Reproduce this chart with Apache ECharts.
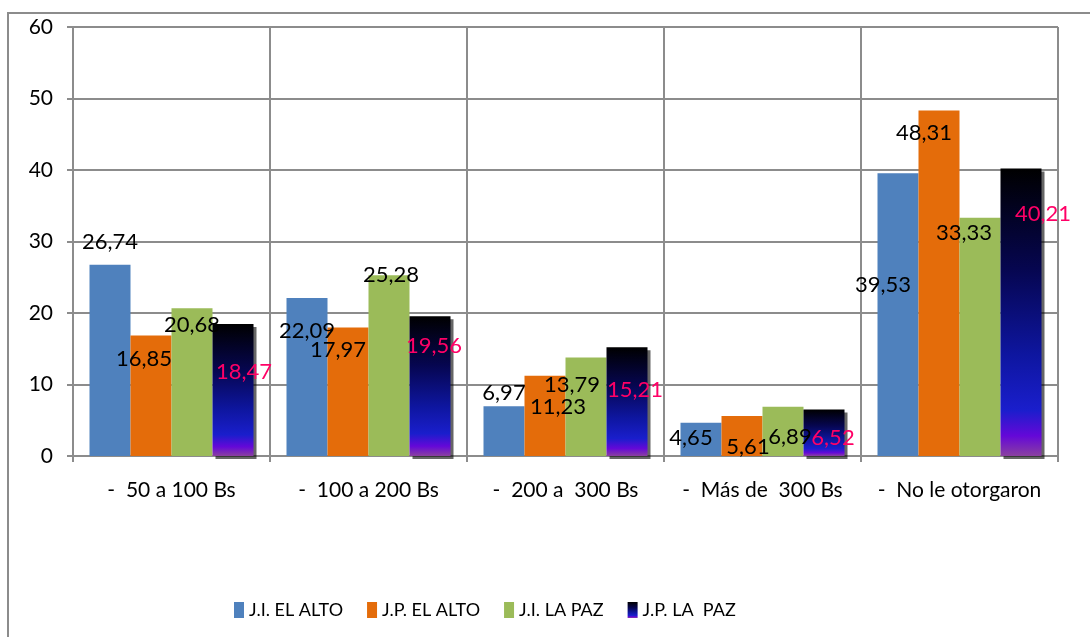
<!DOCTYPE html>
<html lang="es">
<head>
    <meta charset="UTF-8">
    <title>Gráfico de barras - montos</title>
    <script src="https://cdn.jsdelivr.net/npm/echarts@6/dist/echarts.min.js"></script>
    <style>
        html, body { margin: 0; padding: 0; background: #fff; }
        #main { width: 1090px; height: 637px; }
    </style>
</head>
<body>
<div id="main"></div>
<script type="text/javascript">
    // datos
    var categories = ['-  50 a 100 Bs', '-  100 a 200 Bs', '-  200 a  300 Bs', '-  Más de  300 Bs', '-  No le otorgaron'];
    var seriesNames = ['J.I. EL ALTO', 'J.P. EL ALTO', 'J.I. LA PAZ', 'J.P. LA  PAZ'];
    var jiElAlto = [26.74, 22.09, 6.97, 4.65, 39.53];
    var jpElAlto = [16.85, 17.97, 11.23, 5.61, 48.31];
    var jiLaPaz  = [20.68, 25.28, 13.79, 6.89, 33.33];
    var jpLaPaz  = [18.47, 19.56, 15.21, 6.52, 40.21];
    var yTicks = [0, 10, 20, 30, 40, 50, 60];

    // desplazamiento de las etiquetas respecto al tope de cada barra (px)
    var labelOffsets = [
        [[0, -23], [0, 33], [0, -13], [-10, 15], [-15, 112]],
        [[-7, 23], [-10, 22], [13, 31], [6, 31], [-15, 22]],
        [[0, 17], [2, 0], [-14, 28], [7, 30], [-16, 15]],
        [[11, 48], [4, 30], [8, 43], [9, 29], [22, 45]]
    ];

    var font = 'Lato';
    var gridColor = '#8c8c8c';

    var darkGradient = new echarts.graphic.LinearGradient(0, 0, 0, 1, [
        { offset: 0, color: '#000000' },
        { offset: 0.35, color: '#060650' },
        { offset: 0.65, color: '#0e16a0' },
        { offset: 0.84, color: '#1a1ecc' },
        { offset: 0.93, color: '#6408d8' },
        { offset: 1, color: '#8a40a0' }
    ]);

    var colors = ['#4F81BD', '#E46C0A', '#9BBB59', darkGradient];
    var labelColors = ['#000', '#000', '#000', '#FF0066'];
    var allValues = [jiElAlto, jpElAlto, jiLaPaz, jpLaPaz];

    function makeSeries(idx) {
        var values = allValues[idx];
        var s = {
            name: seriesNames[idx],
            type: 'bar',
            barWidth: 41,
            barGap: '0%',
            itemStyle: { color: colors[idx] },
            data: values.map(function (v, i) {
                return {
                    value: v,
                    label: {
                        show: true,
                        position: 'top',
                        distance: 0,
                        align: 'center',
                        verticalAlign: 'middle',
                        offset: labelOffsets[idx][i],
                        color: labelColors[idx],
                        fontFamily: font,
                        fontSize: 22,
                        formatter: function (p) { return p.value.toFixed(2).replace('.', ','); }
                    }
                };
            })
        };
        if (idx === 3) {
            s.itemStyle.shadowColor = 'rgba(0,0,0,0.6)';
            s.itemStyle.shadowOffsetX = 3;
            s.itemStyle.shadowOffsetY = 3;
            s.itemStyle.shadowBlur = 0;
        }
        return s;
    }

    var myChart = echarts.init(document.getElementById('main'));

    var option = {
        animation: false,
        backgroundColor: '#fff',
        textStyle: { fontFamily: font },
        graphic: [{
            type: 'rect',
            shape: { x: 8, y: 13, width: 1200, height: 800 },
            style: { fill: 'none', stroke: gridColor, lineWidth: 2 },
            silent: true
        }],
        grid: { left: 73, right: 32, top: 27, bottom: 181 },
        legend: {
            left: 229,
            top: 596,
            icon: 'rect',
            itemWidth: 10,
            itemHeight: 16,
            itemGap: 24,
            textStyle: { fontFamily: font, fontSize: 18, color: '#000', padding: [0, 0, 0, 0] },
            data: seriesNames
        },
        xAxis: {
            type: 'category',
            data: categories,
            axisLine: { lineStyle: { color: gridColor, width: 2 } },
            axisTick: { show: true, interval: 0, length: 6, lineStyle: { color: gridColor, width: 2 } },
            splitLine: { show: true, interval: 0, lineStyle: { color: gridColor, width: 2 } },
            axisLabel: { interval: 0, color: '#000', fontFamily: font, fontSize: 21, margin: 24 }
        },
        yAxis: {
            type: 'value',
            min: yTicks[0],
            max: yTicks[yTicks.length - 1],
            interval: 10,
            axisLine: { show: true, lineStyle: { color: gridColor, width: 2 } },
            axisTick: { show: true, length: 6, lineStyle: { color: gridColor, width: 2 } },
            splitLine: { show: true, lineStyle: { color: gridColor, width: 2 } },
            axisLabel: { color: '#000', fontFamily: font, fontSize: 21, margin: 20 }
        },
        series: [0, 1, 2, 3].map(makeSeries)
    };

    myChart.setOption(option);
</script>
</body>
</html>
